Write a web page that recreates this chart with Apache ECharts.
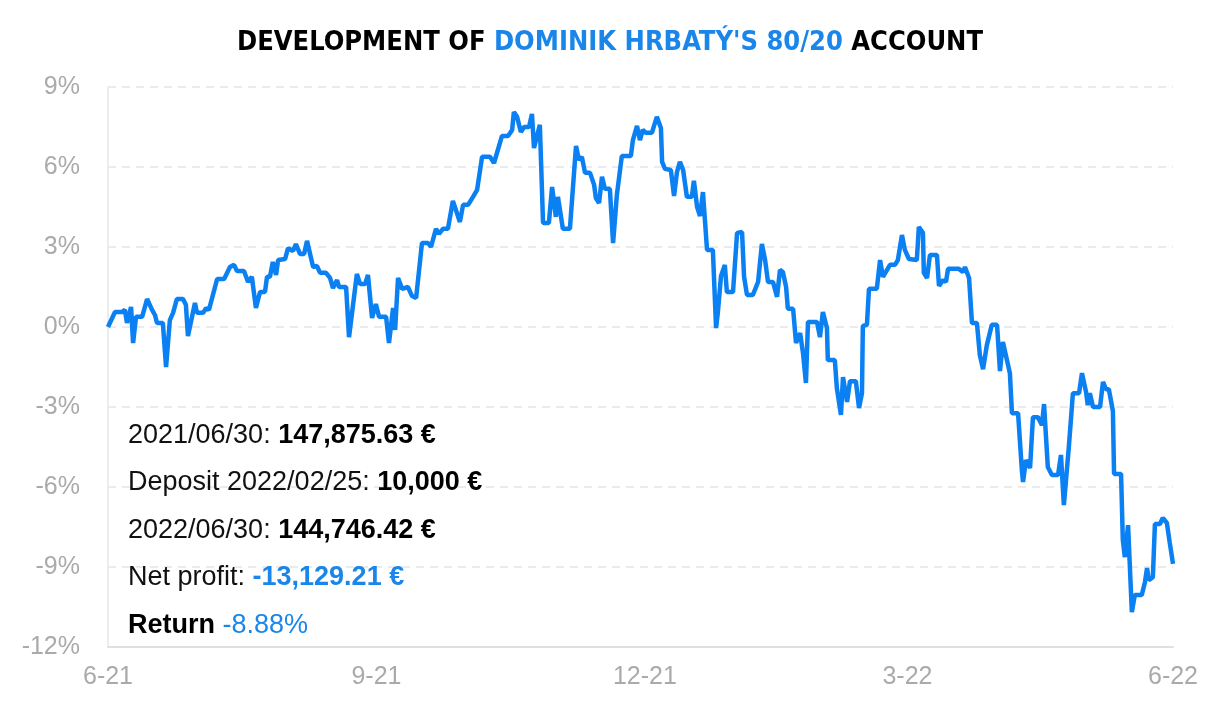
<!DOCTYPE html>
<html><head><meta charset="utf-8">
<script src="https://cdn.jsdelivr.net/npm/echarts@6/dist/echarts.min.js"></script>
<style>html,body{margin:0;padding:0;background:#fff}#c{width:1220px;height:714px}</style>
</head><body><div id="c"></div>
<script>
// days since 2021-06-30
const days = [0,2.4,4.8,5.8,6.5,7.9,8.6,9.6,11.7,13.4,15.1,16.1,16.8,18.8,19.9,21.2,22.3,23.6,25.7,26.7,27.4,29.8,30.5,32.6,33.6,34.6,37.4,39.8,41.8,43.2,44.2,46.6,48.0,49.3,50.7,52.1,53.8,54.5,55.5,56.5,57.6,58.3,60.7,61.7,63.4,64.4,65.8,67.2,68.2,70.3,71.6,72.7,74.7,76.1,77.1,78.5,79.2,81.6,82.6,85.3,86.4,88.1,89.1,90.5,91.8,92.9,95.3,96.3,97.7,98.4,99.4,100.8,102.8,104.2,105.6,107.6,109.7,110.7,112.4,113.4,114.8,116.5,118.2,120.6,121.7,123.4,125.1,126.5,128.2,130.9,132.3,135.0,137.1,138.5,139.1,140.2,141.5,142.6,144.3,145.3,146.0,148.0,149.1,151.1,152.2,153.5,154.2,155.9,158.3,160.4,161.4,162.4,163.5,165.2,166.6,167.2,168.3,169.3,170.3,172.0,173.1,174.4,176.1,179.2,179.9,181.3,182.3,183.3,184.4,186.4,188.1,189.5,189.9,190.9,192.9,194.0,195.0,196.0,197.1,198.4,200.1,200.8,201.9,202.9,203.9,205.3,207.3,208.4,209.0,210.1,211.4,212.1,214.2,215.6,217.3,218.0,219.0,221.0,222.8,224.1,225.2,226.2,227.9,229.3,230.3,231.3,232.4,233.0,234.8,235.8,237.2,238.2,239.2,239.9,243.0,244.0,245.0,246.4,246.7,249.1,249.8,251.2,251.9,253.3,254.3,256.3,257.4,258.4,258.7,260.1,260.8,263.5,264.6,265.6,268.0,269.7,270.7,272.1,273.1,274.5,277.2,277.9,279.3,279.6,280.7,281.7,284.1,284.8,286.2,287.2,287.9,291.6,293.0,293.7,295.1,296.1,297.8,298.8,299.9,301.2,302.9,304.7,305.7,306.7,309.1,309.8,311.9,313.2,313.6,314.6,316.0,317.0,318.7,320.1,320.8,322.1,323.5,325.6,326.6,327.6,329.3,330.7,332.8,333.8,335.2,335.8,336.5,337.6,340.0,341.0,342.0,343.0,344.4,344.8,347.2,347.8,348.5,349.6,350.9,351.9,354.3,355.4,356.1,356.7,358.1,358.8,360.5,361.5,362.9,363.9,365];
const returns = [0,0.56,0.56,0.64,0.15,0.75,-0.6,0.38,0.38,1.05,0.64,0.45,0.15,0.15,-1.5,0.26,0.53,1.05,1.05,0.83,-0.34,0.9,0.53,0.53,0.71,0.64,1.8,1.8,2.25,2.33,2.1,2.1,1.69,1.88,0.71,1.31,1.31,1.88,1.88,2.44,1.95,2.51,2.55,2.96,2.85,3.11,2.74,2.74,3.23,2.25,2.29,2.03,2.03,1.84,1.46,1.76,1.5,1.5,-0.38,1.99,1.61,1.61,1.95,0.34,0.86,0.38,0.38,-0.6,0.71,-0.11,1.84,1.43,1.5,1.16,1.09,3.15,3.15,3.0,3.68,3.49,3.68,3.68,4.73,3.94,4.58,4.58,4.88,5.14,6.38,6.38,6.15,7.16,7.16,7.39,8.06,7.88,7.31,7.5,7.5,7.99,6.71,7.58,3.9,3.9,5.25,4.13,4.88,3.68,3.68,6.79,6.26,6.38,5.78,5.78,5.33,4.84,4.65,5.63,5.18,5.18,3.15,4.95,6.41,6.41,7.01,7.54,7.01,7.39,7.28,7.28,7.88,7.46,6.19,5.93,5.89,4.91,5.81,6.19,5.89,4.88,4.88,5.48,4.5,4.16,5.06,2.89,2.89,-0.04,0.53,1.91,2.33,1.31,1.31,3.53,3.56,1.88,1.2,1.2,1.69,3.11,2.51,1.69,1.69,1.13,2.14,2.06,1.5,0.68,0.68,-0.6,-0.23,-0.98,-2.1,0.19,0.19,-0.38,0.56,-0.04,-1.24,-1.24,-2.29,-3.3,-1.88,-2.81,-2.03,-2.03,-3.04,-2.48,0.04,0.08,1.43,1.43,2.51,1.88,2.33,2.33,2.51,3.45,2.89,2.55,2.51,3.75,3.53,2.03,1.84,2.7,2.7,1.54,1.76,1.69,2.18,2.18,2.06,2.25,1.84,0.15,0.15,-1.05,-1.58,-0.68,0.08,0.08,-1.65,-0.56,-1.73,-3.23,-3.23,-5.36,-5.81,-4.99,-5.29,-3.38,-3.38,-3.68,-2.89,-5.25,-5.55,-5.55,-4.8,-6.68,-4.5,-2.48,-2.48,-1.73,-2.44,-2.93,-2.48,-3.0,-3.0,-2.06,-2.33,-2.33,-3.15,-5.51,-5.51,-7.99,-8.63,-7.43,-10.69,-10.05,-10.05,-9.56,-9.04,-9.49,-9.38,-7.39,-7.39,-7.16,-7.35,-8.1,-8.88];
const xTickDays = [0,92,184,274,365];
const xTickLabels = ['6-21','9-21','12-21','3-22','6-22'];

const chart = echarts.init(document.getElementById('c'));
const font = '"Liberation Sans", Arial, sans-serif';
const tfont = '"DejaVu Sans Condensed", "DejaVu Sans", sans-serif';
chart.setOption({
  animation:false,
  title:{
    text:'{a|DEVELOPMENT OF }{b|DOMINIK HRBATÝ\'S 80/20}{a| ACCOUNT}',
    left:'center', top:24,
    textStyle:{rich:{
      a:{fontFamily:tfont,fontWeight:'bold',fontSize:27,color:'#000'},
      b:{fontFamily:tfont,fontWeight:'bold',fontSize:27,color:'#1a86ea'}
    }}
  },
  grid:{left:108,right:47,top:87,bottom:67},
  xAxis:{type:'value',min:0,max:365,
    axisLine:{show:true,onZero:false,lineStyle:{color:'#dde1e6',width:2}},
    axisTick:{show:false},
    splitLine:{show:false},
    axisLabel:{customValues:xTickDays,formatter:v=>xTickLabels[xTickDays.indexOf(v)]||'',
      color:'#aaaaaa',fontSize:25,fontFamily:font,margin:18}
  },
  yAxis:{type:'value',min:-12,max:9,interval:3,
    axisLine:{show:true,lineStyle:{color:'#e4e7ea',width:1.5}},
    axisTick:{show:false},
    splitLine:{lineStyle:{color:'#e2e5e8',type:[8,6],width:1.5}},
    axisLabel:{formatter:v=>v+'%',color:'#aaaaaa',fontSize:25,fontFamily:font,margin:28}
  },
  series:[{type:'line',data:days.map((d,i)=>[d,returns[i]]),showSymbol:false,
    lineStyle:{color:'#0a80f2',width:4.5},itemStyle:{color:'#0a80f2'}}],
  graphic:[{type:'text',left:128,top:422,z:100,style:{
    text:'{n|2021/06/30: }{k|147,875.63 €}\n{n|Deposit 2022/02/25: }{k|10,000 €}\n{n|2022/06/30: }{k|144,746.42 €}\n{n|Net profit: }{bl|-13,129.21 €}\n{k|Return }{bn|-8.88%}',
    rich:{
      n:{fontFamily:font,fontSize:27,fill:'#111',lineHeight:47.5},
      k:{fontFamily:font,fontSize:27,fontWeight:'bold',fill:'#000',lineHeight:47.5},
      bl:{fontFamily:font,fontSize:27,fontWeight:'bold',fill:'#1a86ea',lineHeight:47.5},
      bn:{fontFamily:font,fontSize:27,fill:'#1a86ea',lineHeight:47.5}
    }}}]
});
</script></body></html>
